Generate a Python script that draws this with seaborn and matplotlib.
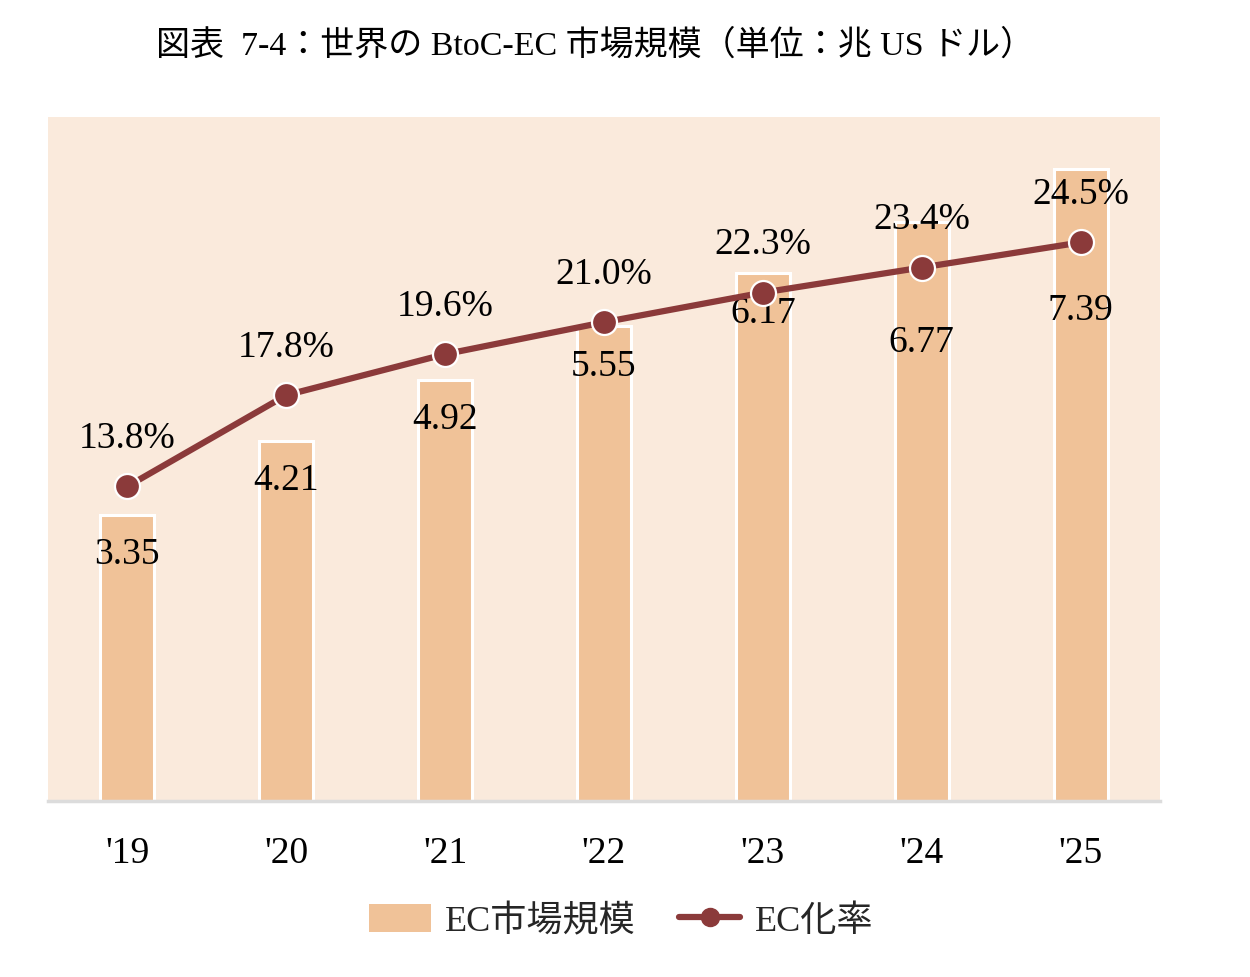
import matplotlib
matplotlib.use('Agg')
import matplotlib.pyplot as plt
import seaborn as sns
from matplotlib.patches import Patch
from matplotlib.lines import Line2D

#%%
years = ["'19", "'20", "'21", "'22", "'23", "'24", "'25"]
market_size = [3.35, 4.21, 4.92, 5.55, 6.17, 6.77, 7.39]   # 兆USドル
ec_rate = [13.8, 17.8, 19.6, 21.0, 22.3, 23.4, 24.5]       # %

title = '図表  7-4：世界の BtoC-EC 市場規模（単位：兆 US ドル）'
bar_name = 'EC市場規模'
line_name = 'EC化率'

#%%
sns.set_theme(style='white')
fonts = ['Liberation Serif', 'Noto Sans CJK JP', 'DejaVu Sans']
plt.rcParams['font.family'] = fonts

bg_col = '#FAEADC'
bar_col = '#F0C298'
line_col = '#8B3A3A'

fig = plt.figure(figsize=(12.5, 9.78), dpi=100)
ax = fig.add_axes([0.0384, 0.180, 0.8896, 0.6993])
ax.set_facecolor(bg_col)

sns.barplot(x=years, y=market_size, color=bar_col, saturation=1, width=0.34,
            edgecolor='white', linewidth=2.2, ax=ax)
ax.set_ylim(0, 8)
ax.set_xlim(-0.5, len(years) - 0.5)

ax2 = ax.twinx()
sns.pointplot(x=years, y=ec_rate, color=line_col, markers='o', errorbar=None,
              ax=ax2, linewidth=4.5, markersize=18,
              markeredgecolor='white', markeredgewidth=1.6)
ax2.set_ylim(0, 30)
ax2.set_xlim(-0.5, len(years) - 0.5)

# labels (pixel offsets; last two bar labels pushed down to clear % labels)
bar_drop = [28, 28, 28, 28, 28, 86, 101]
fs = 27
for i, (v, r) in enumerate(zip(market_size, ec_rate)):
    ax.annotate(f'{v:.2f}', (i, v), xytext=(0, -bar_drop[i]), textcoords='offset points',
                ha='center', va='center', fontsize=fs, color='black')
    ax2.annotate(f'{r:.1f}%', (i, r), xytext=(0, 35), textcoords='offset points',
                 ha='center', va='center', fontsize=fs, color='black')

for a in (ax, ax2):
    for s in ['top', 'left', 'right']:
        a.spines[s].set_visible(False)
    a.set_yticks([])
    a.set_ylabel('')
    a.spines['bottom'].set_visible(False)
ax.spines['bottom'].set_visible(True)
ax.spines['bottom'].set_color('#DCDCDC')
ax.spines['bottom'].set_linewidth(2.5)
ax.tick_params(axis='x', length=0, pad=25, labelsize=fs, labelcolor='black')
ax2.tick_params(axis='x', length=0, labelbottom=False)

fig.text(0.476, 0.953, title, ha='center', va='center', fontsize=24.5, color='black')

handles = [Patch(facecolor=bar_col, edgecolor='none'),
           Line2D([0], [0], color=line_col, lw=4.5, marker='o', markersize=13,
                  markeredgecolor=line_col)]
fig.legend(handles, [bar_name, line_name], loc='center', bbox_to_anchor=(0.497, 0.057),
           ncol=2, frameon=False, fontsize=26, handlelength=1.7, handleheight=0.8,
           columnspacing=1.2, handletextpad=0.4)

fig.savefig('out.png', dpi=100, facecolor='white')
